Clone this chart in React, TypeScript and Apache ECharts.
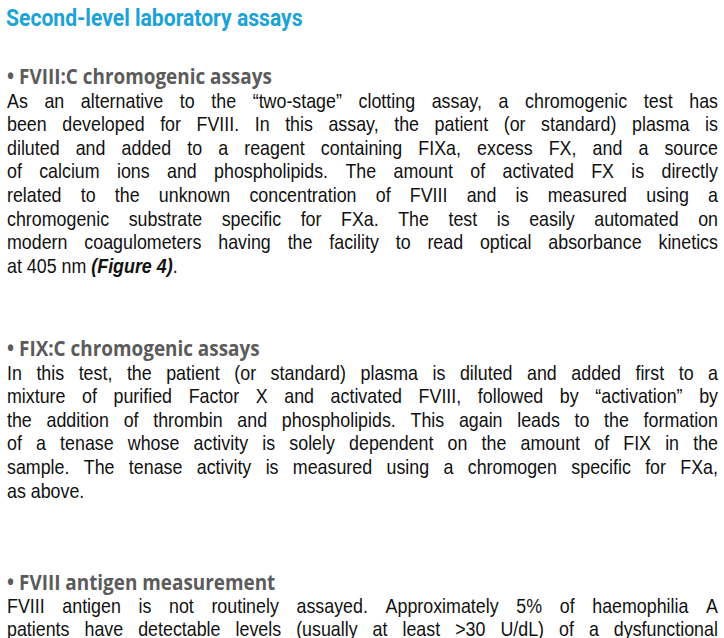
import React from 'react';
import * as echarts from 'echarts';

const title = 'Second-level laboratory assays';
const headings = ['• FVIII:C chromogenic assays', '• FIX:C chromogenic assays', '• FVIII antigen measurement'];
const para1 = [
  'As an alternative to the “two-stage” clotting assay, a chromogenic test has',
  'been developed for FVIII. In this assay, the patient (or standard) plasma is',
  'diluted and added to a reagent containing FIXa, excess FX, and a source',
  'of calcium ions and phospholipids. The amount of activated FX is directly',
  'related to the unknown concentration of FVIII and is measured using a',
  'chromogenic substrate specific for FXa. The test is easily automated on',
  'modern coagulometers having the facility to read optical absorbance kinetics',
];
const para2 = [
  'In this test, the patient (or standard) plasma is diluted and added first to a',
  'mixture of purified Factor X and activated FVIII, followed by “activation” by',
  'the addition of thrombin and phospholipids. This again leads to the formation',
  'of a tenase whose activity is solely dependent on the amount of FIX in the',
  'sample. The tenase activity is measured using a chromogen specific for FXa,',
];
const para3 = [
  'FVIII antigen is not routinely assayed. Approximately 5% of haemophilia A',
  'patients have detectable levels (usually at least >30 U/dL) of a dysfunctional',
];

const FONT = "21px 'Liberation Sans', Arial, sans-serif";
const CONDENSE = 0.85;
const LEFT = 7;
const RIGHT = 718;

function justified(line: string, y: number, ctx: CanvasRenderingContext2D) {
  const words = line.split(' ');
  const widths = words.map((w) => ctx.measureText(w).width);
  const total = widths.reduce((a, b) => a + b, 0);
  const space = ctx.measureText(' ').width;
  const target = RIGHT - LEFT;
  let scale = CONDENSE;
  const natural = (total + space * (words.length - 1)) * scale;
  if (natural > target) scale = scale * target / natural;
  const gap = (target - total * scale) / (words.length - 1);
  let x = LEFT;
  return words.map((w, i) => {
    const el = {
      type: 'text',
      x,
      y,
      scaleX: scale,
      style: { text: w, font: FONT, fill: '#111', textVerticalAlign: 'middle' },
    };
    x += widths[i] * scale + gap;
    return el;
  });
}

const App: React.FC = () => {
  const ref = React.useRef<HTMLDivElement>(null);

  React.useEffect(() => {
    document.body.style.margin = '0';
    if (!ref.current) return;
    const chart = echarts.init(ref.current, undefined, { renderer: 'svg' });
    const ctx = document.createElement('canvas').getContext('2d')!;
    ctx.font = FONT;

    const els: any[] = [];
    els.push({
      type: 'text', x: 6, y: 18, scaleX: 0.88,
      style: { text: title, font: "bold 24px Roboto, sans-serif", fill: '#1ba3d8', textVerticalAlign: 'middle' },
    });
    const head = (t: string, y: number) => els.push({
      type: 'text', x: 7, y, scaleX: 0.9,
      style: { text: t, font: "bold 21px 'Open Sans', sans-serif", fill: '#5b5b5b', textVerticalAlign: 'middle' },
    });
    const plain = (t: string, y: number, rich?: any) => els.push({
      type: 'text', x: LEFT, y, scaleX: CONDENSE,
      style: { text: t, font: FONT, fill: '#111', textVerticalAlign: 'middle', rich },
    });
    const lh = 23.6;
    head(headings[0], 76);
    para1.forEach((l, i) => els.push(...justified(l, 100 + i * lh, ctx)));
    plain('at 405 nm {b|(Figure 4)}.', 100 + 7 * lh, {
      b: { font: "bold italic 21px 'Liberation Sans', Arial, sans-serif", fill: '#111' },
    });
    head(headings[1], 348);
    para2.forEach((l, i) => els.push(...justified(l, 372 + i * lh, ctx)));
    plain('as above.', 372 + 5 * lh);
    head(headings[2], 582);
    para3.forEach((l, i) => els.push(...justified(l, 605 + i * lh, ctx)));

    chart.setOption({ animation: false, backgroundColor: '#fff', graphic: { elements: els } });
    return () => chart.dispose();
  }, []);

  return <div ref={ref} style={{ width: 724, height: 638 }} />;
};

export default App;
